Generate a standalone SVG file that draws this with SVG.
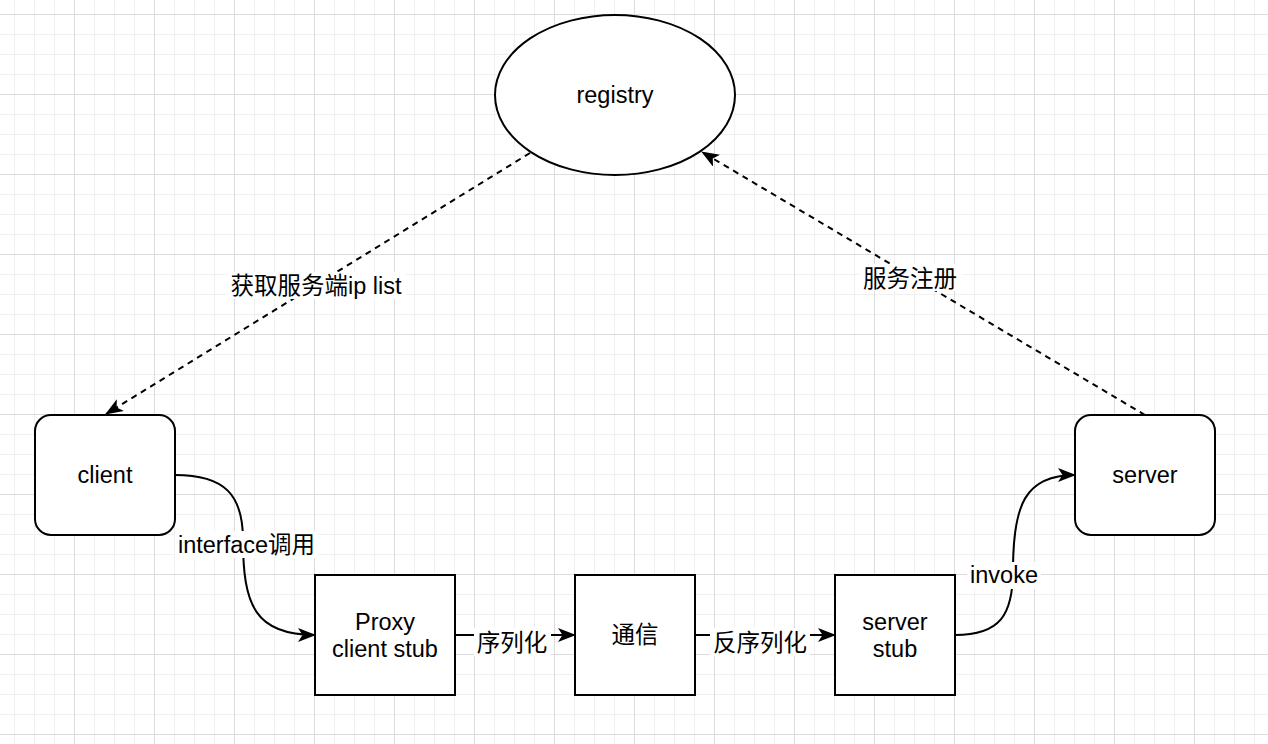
<svg xmlns="http://www.w3.org/2000/svg" width="1268" height="744" viewBox="0 0 1268 744">
<style>
.shape{fill:#ffffff;stroke:#000000;stroke-width:2}
.edge{fill:none;stroke:#000000;stroke-width:2}
.dash{stroke-dasharray:6 5}
.t{font-family:"Liberation Sans","Noto Sans CJK SC",sans-serif;font-size:23.5px;fill:#000000;text-anchor:middle}
.lbg{fill:#ffffff}
</style>
<defs>
<pattern id="minor" width="20" height="20" patternUnits="userSpaceOnUse" x="14" y="14">
<path d="M0.5,0 V20 M0,0.5 H20" fill="none" stroke="#f0f0f0" stroke-width="1"/>
</pattern>
<pattern id="major" width="80" height="80" patternUnits="userSpaceOnUse" x="-6" y="14">
<path d="M0.5,0 V80 M0,0.5 H80" fill="none" stroke="#dcdcdc" stroke-width="1"/>
</pattern>
<marker id="arr" markerUnits="userSpaceOnUse" markerWidth="18" markerHeight="14" viewBox="0 0 18 14" refX="17" refY="7" orient="auto">
<path d="M0,0 L18,7 L0,14 L4.5,7 z" fill="#000000" stroke="none"/>
</marker>
</defs>
<rect width="1268" height="744" fill="#ffffff"/>
<rect width="1268" height="744" fill="url(#minor)"/>
<rect width="1268" height="744" fill="url(#major)"/>

<g id="connectors">
<path class="edge dash" d="M530,153 L106,414" marker-end="url(#arr)"/>
<path class="edge dash" d="M1145,415 L702,152" marker-end="url(#arr)"/>
<path class="edge" d="M175,475 C225,475 243,495 243,540 C243,605 255,635 315,635" marker-end="url(#arr)"/>
<path class="edge" d="M455,635 L575,635" marker-end="url(#arr)"/>
<path class="edge" d="M695,635 L835,635" marker-end="url(#arr)"/>
<path class="edge" d="M955,635 C1000,635 1013,615 1013,570 C1013,505 1025,475 1075,475" marker-end="url(#arr)"/>
<rect class="lbg" x="226" y="272" width="180" height="27"/>
<text class="t" x="316" y="294">获取服务端ip list</text>
<rect class="lbg" x="859" y="264" width="103" height="27"/>
<text class="t" x="910" y="287">服务注册</text>
<rect class="lbg" x="175" y="531" width="143" height="27"/>
<text class="t" x="246.5" y="553">interface调用</text>
<rect class="lbg" x="474" y="628" width="77" height="28"/>
<text class="t" x="512" y="651">序列化</text>
<rect class="lbg" x="710" y="628" width="100" height="28"/>
<text class="t" x="760" y="651">反序列化</text>
<rect class="lbg" x="967" y="562" width="74" height="27"/>
<text class="t" x="1004" y="583">invoke</text>
</g>

<g id="registry">
<ellipse class="shape" cx="615" cy="95" rx="120" ry="80"/>
<text class="t" x="615" y="103">registry</text>
</g>
<g id="client">
<rect class="shape" x="35" y="415" width="140" height="120" rx="16" ry="16"/>
<text class="t" x="105" y="483">client</text>
</g>
<g id="server">
<rect class="shape" x="1075" y="415" width="140" height="120" rx="16" ry="16"/>
<text class="t" x="1145" y="483">server</text>
</g>
<g id="proxy">
<rect class="shape" x="315" y="575" width="140" height="120"/>
<text class="t" x="385" y="630">Proxy</text>
<text class="t" x="385" y="657">client stub</text>
</g>
<g id="comm">
<rect class="shape" x="575" y="575" width="120" height="120"/>
<text class="t" x="635" y="643">通信</text>
</g>
<g id="serverstub">
<rect class="shape" x="835" y="575" width="120" height="120"/>
<text class="t" x="895" y="630">server</text>
<text class="t" x="895" y="657">stub</text>
</g>
</svg>
